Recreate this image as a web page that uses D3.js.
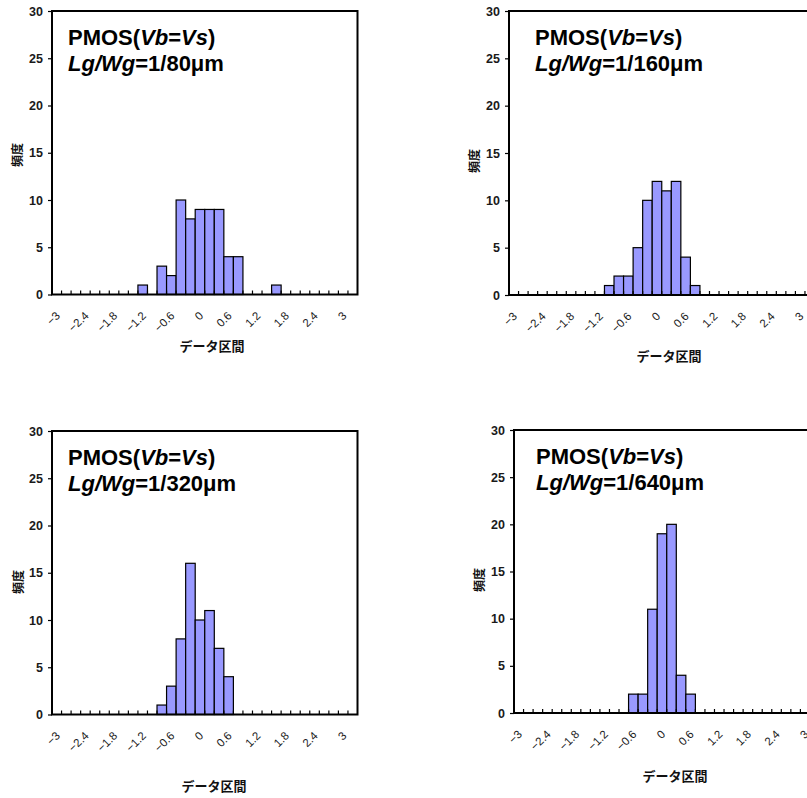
<!DOCTYPE html>
<html>
<head>
<meta charset="utf-8">
<script src="https://cdn.jsdelivr.net/npm/d3@7"></script>
<style>
  html, body { margin: 0; padding: 0; background: #fff; }
  svg { display: block; }
</style>
</head>
<body>
<svg id="chart" width="807" height="798"></svg>
<script>
// Histogram bins (upper bounds) and the overflow class
const bins = ["-3", "-2.8", "-2.6", "-2.4", "-2.2", "-2", "-1.8", "-1.6", "-1.4", "-1.2",
              "-1", "-0.8", "-0.6", "-0.4", "-0.2", "0", "0.2", "0.4", "0.6", "0.8",
              "1", "1.2", "1.4", "1.6", "1.8", "2", "2.2", "2.4", "2.6", "2.8", "3", "次の級"];

// Frequency per bin for each gate width
const freq80  = [0,0,0,0,0,0,0,0,0,1, 0,3,2,10,8,9,9,9,4,4, 0,0,0,1,0,0,0,0,0,0,0,0];
const freq160 = [0,0,0,0,0,0,0,0,0,0, 1,2,2,5,10,12,11,12,4,1, 0,0,0,0,0,0,0,0,0,0,0,0];
const freq320 = [0,0,0,0,0,0,0,0,0,0, 0,1,3,8,16,10,11,7,4,0, 0,0,0,0,0,0,0,0,0,0,0,0];
const freq640 = [0,0,0,0,0,0,0,0,0,0, 0,0,2,2,11,19,20,4,2,0, 0,0,0,0,0,0,0,0,0,0,0,0];

const gateWidths = ["80", "160", "320", "640"];
const yTicks = [0, 5, 10, 15, 20, 25, 30];
const xLabelEvery = 3;
const xTitle = "データ区間";
const yTitle = "頻度";

const series = [freq80, freq160, freq320, freq640];

// Panel placement on the page
const layout = [
  { left: 52,  top: 11,  bottom: 294.5, textDx: 16, yt: [16, 155],  xt: [212, 345] },
  { left: 509, top: 11,  bottom: 295,   textDx: 26, yt: [473, 161], xt: [669, 355] },
  { left: 52,  top: 431, bottom: 714.5, textDx: 16, yt: [17, 582],  xt: [214, 785] },
  { left: 514, top: 430, bottom: 713,   textDx: 22, yt: [478, 580], xt: [675, 775] }
];
const plotWidth = 305.5;

const latin = "'Liberation Sans', Arial, sans-serif";
const cjk = "'Noto Sans CJK JP', 'Noto Sans CJK SC', sans-serif";

const svg = d3.select("#chart");

series.forEach((vals, i) => {
  const L = layout[i];
  const g = svg.append("g");

  const x = d3.scaleBand().domain(bins).range([L.left, L.left + plotWidth]).padding(0);
  const y = d3.scaleLinear().domain([0, 30]).range([L.bottom, L.top]);

  // bars
  const data = bins.map((b, k) => ({ bin: b, v: vals[k] })).filter(d => d.v > 0);
  g.selectAll("rect.bar").data(data).join("rect")
    .attr("class", "bar")
    .attr("x", d => x(d.bin))
    .attr("y", d => y(d.v))
    .attr("width", x.bandwidth())
    .attr("height", d => y(0) - y(d.v))
    .attr("fill", "#9999ff")
    .attr("stroke", "#000")
    .attr("stroke-width", 1.2);

  // plot frame
  g.append("rect")
    .attr("x", L.left).attr("y", L.top)
    .attr("width", plotWidth).attr("height", L.bottom - L.top)
    .attr("fill", "none").attr("stroke", "#000").attr("stroke-width", 2);

  // y axis: outward ticks and labels
  const yAxis = d3.axisLeft(y).tickValues(yTicks).tickSize(4).tickPadding(5).tickFormat(d3.format("d"));
  const ya = g.append("g").attr("transform", `translate(${L.left},0)`).call(yAxis);
  ya.select(".domain").remove();
  ya.selectAll("line").attr("stroke", "#000").attr("stroke-width", 1.2);
  ya.selectAll("text")
    .attr("font-family", latin).attr("font-size", 12.5).attr("fill", "#1a1a1a")
    .attr("font-weight", "bold");

  // x axis: inward ticks at bin boundaries
  const bounds = bins.slice(1).map(b => x(b));
  g.selectAll("line.xt").data(bounds).join("line")
    .attr("class", "xt")
    .attr("x1", d => d).attr("x2", d => d)
    .attr("y1", L.bottom).attr("y2", L.bottom - 4)
    .attr("stroke", "#000").attr("stroke-width", 1.2);

  // x labels, every third bin, rotated
  const shown = bins.filter((b, k) => k % xLabelEvery === 0 && b !== "次の級");
  g.selectAll("text.xl").data(shown).join("text")
    .attr("class", "xl")
    .attr("transform", d => `translate(${x(d) + x.bandwidth() / 2 + 4},${L.bottom + 22}) rotate(-45)`)
    .attr("text-anchor", "end")
    .attr("font-family", latin).attr("font-size", 11.5).attr("fill", "#1a1a1a")
    .text(d => d.startsWith("-") ? "\u2212" + d.slice(1) : d);

  // axis titles
  g.append("text")
    .attr("x", L.xt[0]).attr("y", L.xt[1])
    .attr("text-anchor", "middle").attr("dominant-baseline", "central")
    .attr("font-family", cjk).attr("font-size", 13).attr("font-weight", "bold").attr("fill", "#111")
    .text(xTitle);
  g.append("text")
    .attr("transform", `translate(${L.yt[0]},${L.yt[1]}) rotate(-90)`)
    .attr("text-anchor", "middle").attr("dominant-baseline", "central")
    .attr("font-family", cjk).attr("font-size", 12).attr("font-weight", "bold").attr("fill", "#111")
    .text(yTitle);

  // in-plot caption
  const cap = g.append("text")
    .attr("font-family", latin).attr("font-size", 22).attr("font-weight", "bold").attr("fill", "#000");
  const tx = L.left + L.textDx;
  const l1 = cap.append("tspan").attr("x", tx).attr("y", L.top + 34);
  l1.append("tspan").text("PMOS(");
  l1.append("tspan").attr("font-style", "italic").text("Vb");
  l1.append("tspan").text("=");
  l1.append("tspan").attr("font-style", "italic").text("Vs");
  l1.append("tspan").text(")");
  const l2 = cap.append("tspan").attr("x", tx).attr("y", L.top + 60);
  l2.append("tspan").attr("font-style", "italic").text("Lg/Wg");
  l2.append("tspan").text(`=1/${gateWidths[i]}μm`);
});
</script>
</body>
</html>
